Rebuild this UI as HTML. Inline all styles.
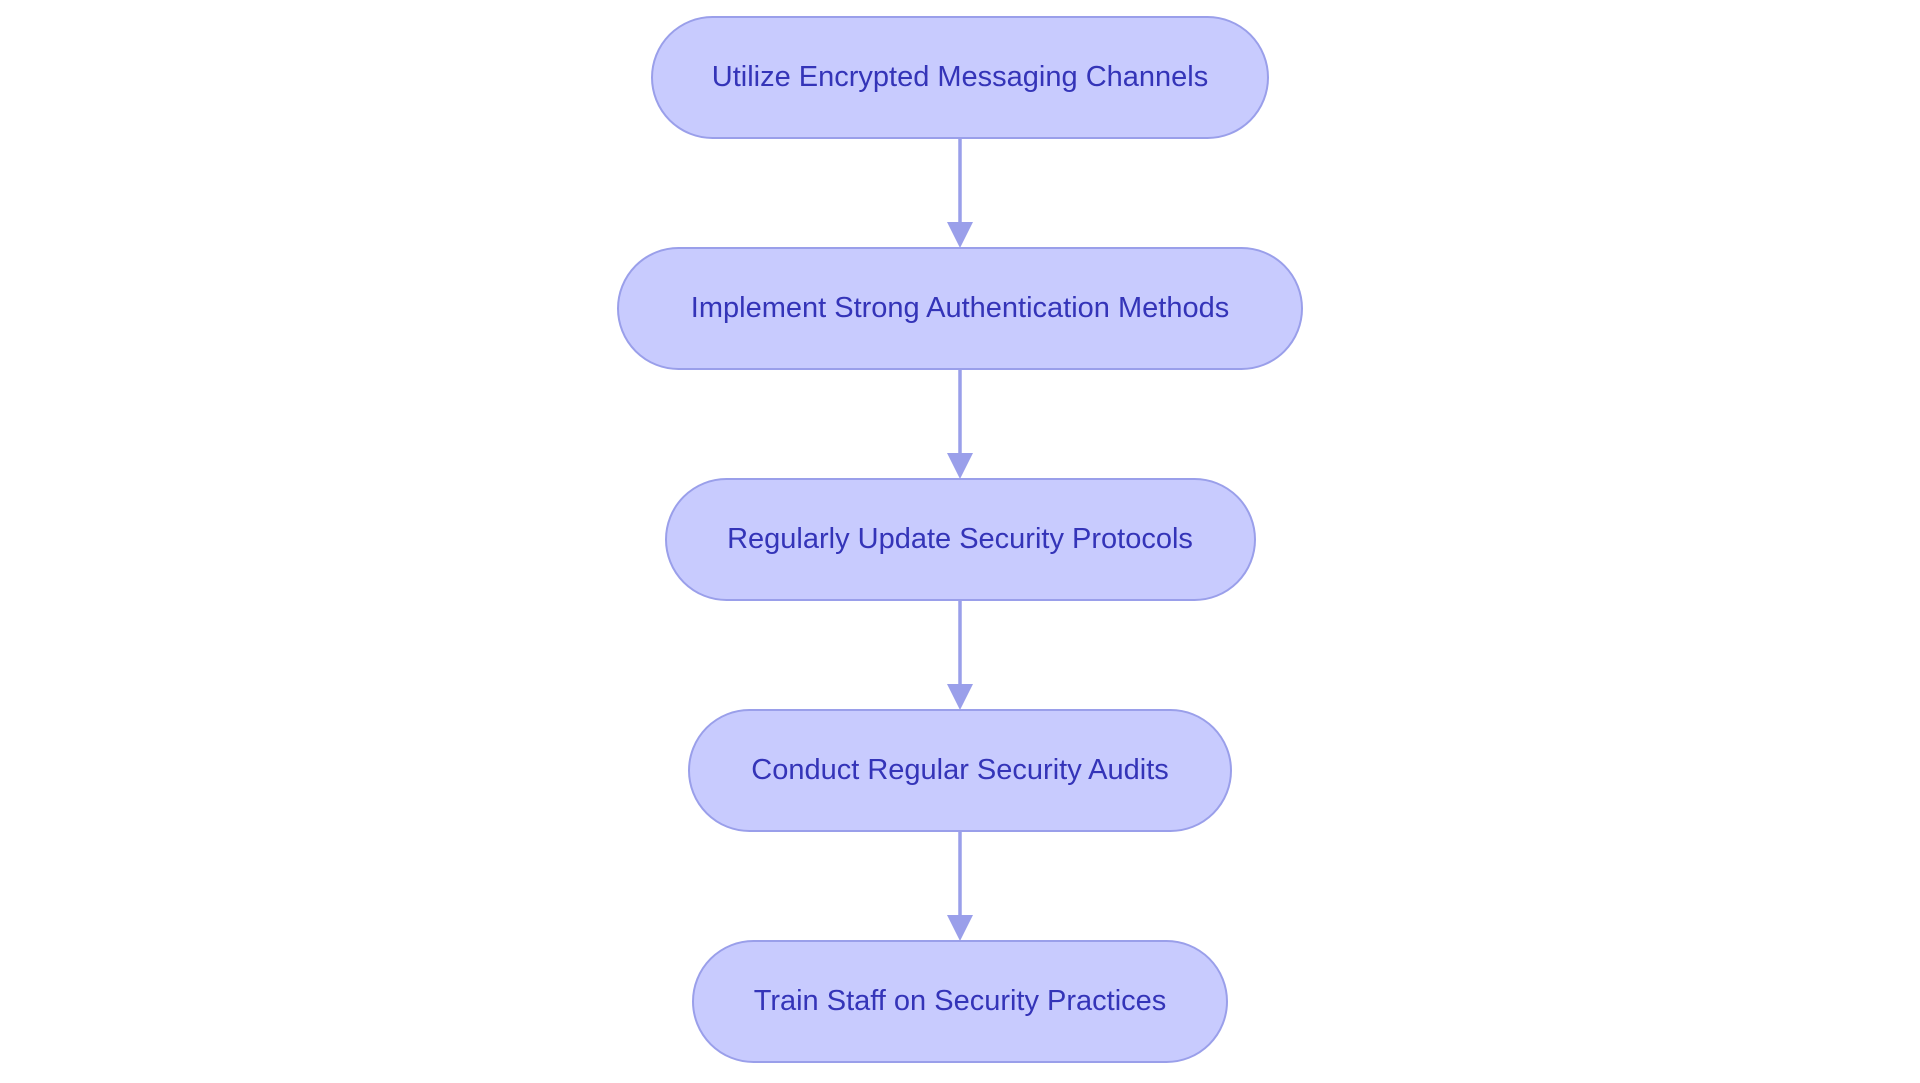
<!DOCTYPE html>
<html><head><meta charset="utf-8"><style>
html,body{margin:0;padding:0;background:#fff;}
svg{display:block}
text{font-family:"Liberation Sans",sans-serif;font-size:29px;fill:#3434b8;text-anchor:middle;dominant-baseline:central}
rect{fill:#c8cbfe;stroke:#9a9fea;stroke-width:2}
line{stroke:#9a9fea;stroke-width:3.5}
polygon{fill:#9a9fea}
</style></head><body>
<svg width="1920" height="1083" viewBox="0 0 1920 1083">
<rect x="652" y="17" width="616" height="121" rx="60.5"/>
<text x="960" y="77">Utilize Encrypted Messaging Channels</text>
<rect x="618" y="248" width="684" height="121" rx="60.5"/>
<text x="960" y="308">Implement Strong Authentication Methods</text>
<rect x="666" y="479" width="589" height="121" rx="60.5"/>
<text x="960" y="539">Regularly Update Security Protocols</text>
<rect x="689" y="710" width="542" height="121" rx="60.5"/>
<text x="960" y="770">Conduct Regular Security Audits</text>
<rect x="693" y="941" width="534" height="121" rx="60.5"/>
<text x="960" y="1001">Train Staff on Security Practices</text>
<line x1="960" y1="138" x2="960" y2="224"/><polygon points="947,222 973,222 960,248"/>
<line x1="960" y1="369" x2="960" y2="455"/><polygon points="947,453 973,453 960,479"/>
<line x1="960" y1="600" x2="960" y2="686"/><polygon points="947,684 973,684 960,710"/>
<line x1="960" y1="831" x2="960" y2="917"/><polygon points="947,915 973,915 960,941"/>
</svg>
</body></html>
